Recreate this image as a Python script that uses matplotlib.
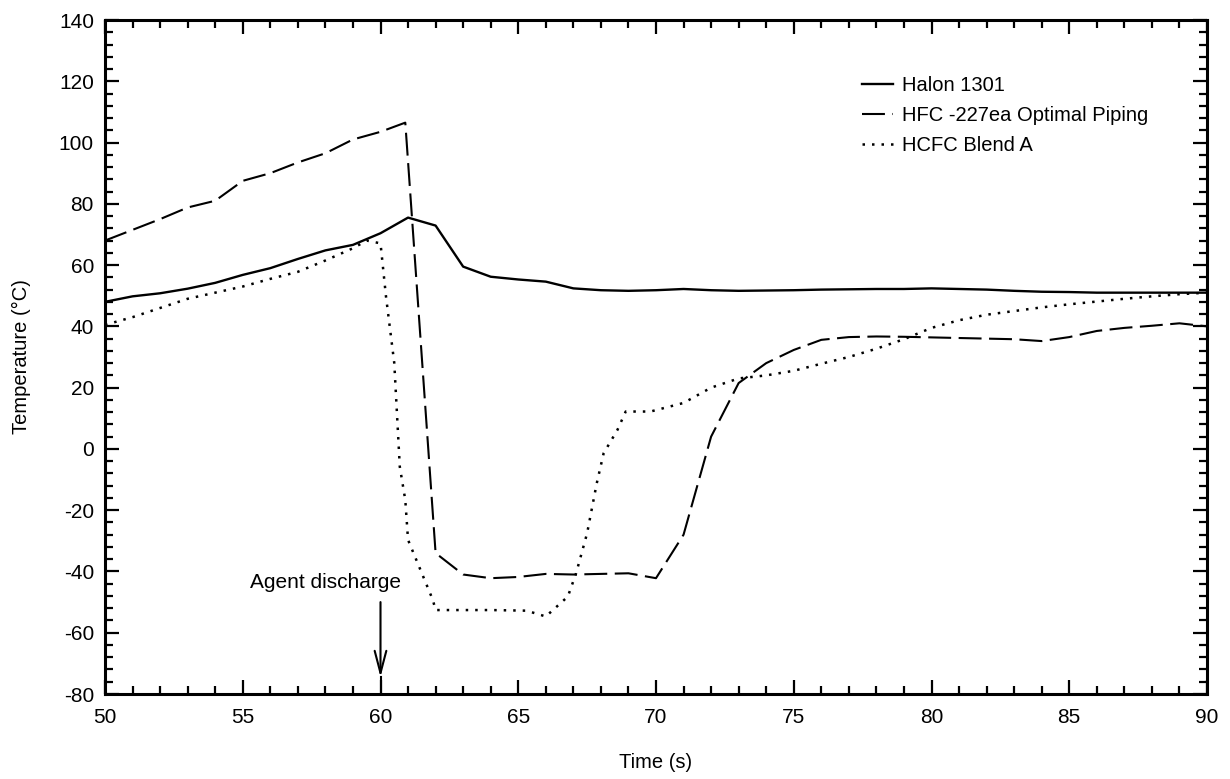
import matplotlib
matplotlib.use("Agg")
import matplotlib.pyplot as plt
from matplotlib.ticker import MultipleLocator

plt.rcParams['font.family'] = ['Liberation Sans', 'DejaVu Sans']
plt.rcParams['axes.unicode_minus'] = False

# ---- data ----
halon_t = [50, 51, 52, 53, 54, 55, 56, 57, 58, 59, 60, 61, 62, 63, 64, 65, 66, 67, 68, 69, 70,
           71, 72, 73, 74, 75, 76, 77, 78, 79, 80, 81, 82, 83, 84, 85, 86, 87, 88, 89, 90]
halon_T = [48, 49.8, 50.8, 52.3, 54.2, 56.8, 59, 62, 64.8, 66.6, 70.4, 75.5, 72.9, 59.5, 56.2,
           55.3, 54.6, 52.4, 51.8, 51.6, 51.8, 52.2, 51.8, 51.6, 51.7, 51.8, 52, 52.1, 52.2,
           52.2, 52.4, 52.2, 52, 51.6, 51.3, 51.2, 51, 51, 51, 51, 51]

hfc_t = [50, 51, 52, 53, 54, 55, 56, 57, 58, 59, 60, 60.9, 62, 63, 64, 65, 66, 67, 68, 69, 70,
         71, 72, 73, 74, 75, 76, 77, 78, 79, 80, 81, 82, 83, 84, 85, 86, 87, 88, 89, 90]
hfc_T = [68, 71.5, 75, 78.8, 81, 87.5, 90, 93.5, 96.5, 101, 103.5, 106.5, -34, -41, -42.2,
         -41.8, -40.8, -41, -40.8, -40.6, -42.2, -28, 4, 21.5, 28, 32.3, 35.6, 36.5, 36.7,
         36.6, 36.4, 36.2, 36, 35.8, 35.2, 36.5, 38.5, 39.5, 40.2, 41, 40]

hcfc_t = [50, 51, 52, 53, 54, 55, 56, 57, 58, 59, 59.5, 60, 60.2, 60.5, 60.7, 60.9, 61, 61.4,
          61.9, 62, 63, 64, 65.3, 66, 66.8, 67.1, 67.5, 67.85, 68.1, 68.6, 68.9, 69.8, 71, 72,
          73, 74, 75, 76, 77, 78, 79, 80, 81, 82, 83, 84, 85, 86, 87, 88, 89, 90]
hcfc_T = [40.5, 43, 46, 49, 51, 53, 55.5, 57.8, 61.5, 65.5, 68, 67.1, 49.7, 28, -5.8, -16.7,
          -29.7, -38.4, -49.3, -52.6, -52.6, -52.6, -52.8, -54.7, -48.2, -40.6, -27.5, -11.2,
          -1.4, 6.2, 12.2, 12.2, 15, 20, 23, 24, 25.5, 27.8, 30, 32.7, 35.8, 39.5, 42, 43.8,
          45, 46.2, 47.2, 48.1, 49, 49.8, 50.5, 51]

labels = ["Halon 1301", "HFC -227ea Optimal Piping", "HCFC Blend A"]
discharge_t = 60
discharge_label = "Agent discharge"

# ---- figure ----
fig = plt.figure(figsize=(12.3, 7.79), dpi=100)
ax = fig.add_axes([105 / 1230, 1 - 694 / 779, (1207 - 105) / 1230, (694 - 20) / 779])

ax.plot(halon_t, halon_T, color='black', lw=1.7, linestyle='-', label=labels[0])
ax.plot(hfc_t, hfc_T, color='black', lw=1.5, linestyle=(0, (11, 3.6)), label=labels[1])
ax.plot(hcfc_t, hcfc_T, color='black', lw=1.8, linestyle=(0, (1.0, 2.8)), label=labels[2])

ax.set_xlim(50, 90)
ax.set_ylim(-80, 140)
ax.xaxis.set_major_locator(MultipleLocator(5))
ax.xaxis.set_minor_locator(MultipleLocator(1))
ax.yaxis.set_major_locator(MultipleLocator(20))
ax.yaxis.set_minor_locator(MultipleLocator(4))

ax.tick_params(which='both', direction='in', top=True, right=True, width=1.6, colors='black')
ax.tick_params(which='major', length=10)
ax.tick_params(which='minor', length=5.5)
ax.tick_params(axis='x', which='major', pad=10, labelsize=15)
ax.tick_params(axis='y', which='major', pad=8, labelsize=15)
for s in ax.spines.values():
    s.set_linewidth(2.2)

ax.set_xlabel("Time (s)", fontsize=14.5, labelpad=19)
ax.set_ylabel("Temperature (°C)", fontsize=14.5, labelpad=20)

# annotation
ax.annotate("", xy=(discharge_t, -74.5), xytext=(discharge_t, -50),
            arrowprops=dict(arrowstyle='->,head_length=1.6,head_width=0.42',
                            color='black', lw=1.5, mutation_scale=10,
                            shrinkA=0, shrinkB=0))
ax.plot([discharge_t, discharge_t], [-74.5, -80], color='black', lw=1.5)
ax.text(58.0, -43.7, discharge_label, ha='center', va='center', fontsize=15)

leg = ax.legend(loc='upper left', bbox_to_anchor=(0.687, 0.917), frameon=False,
                borderpad=0, borderaxespad=0, handlelength=1.55, handletextpad=0.45,
                labelspacing=0.55, fontsize=14.5)

fig.savefig("out.png", dpi=100)
